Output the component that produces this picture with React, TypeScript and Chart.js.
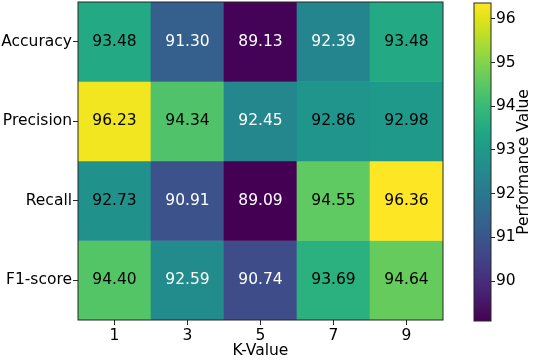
import React, { useEffect, useRef } from 'react';
import { Chart, registerables } from 'chart.js';
Chart.register(...registerables);

const metrics = ['Accuracy', 'Precision', 'Recall', 'F1-score'];
const kValues = ['1', '3', '5', '7', '9'];
const accuracy = [93.48, 91.30, 89.13, 92.39, 93.48];
const precision = [96.23, 94.34, 92.45, 92.86, 92.98];
const recall = [92.73, 90.91, 89.09, 94.55, 96.36];
const f1score = [94.40, 92.59, 90.74, 93.69, 94.64];
const colorbarTicks = [90, 91, 92, 93, 94, 95, 96];

const rows = [accuracy, precision, recall, f1score];
const allVals = rows.flat();
const vmin = Math.min(...allVals);
const vmax = Math.max(...allVals);
const vmid = (vmin + vmax) / 2;

const VIRIDIS = [
  '#440154', '#471365', '#482475', '#463480', '#414487', '#3b528b', '#355f8d',
  '#2f6c8e', '#2a788e', '#25848e', '#21918c', '#1e9c89', '#22a884', '#2fb47c',
  '#44bf70', '#5ec962', '#7ad151', '#9bd93c', '#bddf26', '#dfe318', '#fde725',
];
const hexToRgb = (h: string) => [1, 3, 5].map((i) => parseInt(h.slice(i, i + 2), 16));
const VIR_RGB = VIRIDIS.map(hexToRgb);
function viridis(t: number): string {
  const tt = Math.max(0, Math.min(1, t));
  const p = tt * (VIR_RGB.length - 1);
  const i = Math.min(Math.floor(p), VIR_RGB.length - 2);
  const f = p - i;
  const a = VIR_RGB[i], b = VIR_RGB[i + 1];
  const c = a.map((x, k) => Math.round(x + (b[k] - x) * f));
  return `rgb(${c[0]},${c[1]},${c[2]})`;
}
const norm = (v: number) => (v - vmin) / (vmax - vmin);

const FONT = { family: 'DejaVu Sans', size: 15.5 };
const FRAME = '#262626';

const noPad = (s: any) => {
  s.paddingTop = 0;
  s.paddingBottom = 0;
  s.paddingLeft = 0;
  s.paddingRight = 0;
};

export default function App() {
  const mainRef = useRef<HTMLCanvasElement>(null);
  const cbRef = useRef<HTMLCanvasElement>(null);

  useEffect(() => {
    const labelPlugin = {
      id: 'cellLabels',
      afterDatasetsDraw(chart: any) {
        const ctx = chart.ctx;
        ctx.save();
        ctx.font = `${FONT.size}px ${FONT.family}`;
        ctx.textAlign = 'center';
        ctx.textBaseline = 'middle';
        rows.forEach((vals, r) => {
          const meta = chart.getDatasetMeta(r);
          meta.data.forEach((el: any, c: number) => {
            const v = vals[c];
            ctx.fillStyle = v < vmid ? '#ffffff' : '#000000';
            ctx.fillText(v.toFixed(2), el.x, (el.y + el.base) / 2);
          });
        });
        const a = chart.chartArea;
        ctx.strokeStyle = FRAME;
        ctx.lineWidth = 1;
        ctx.strokeRect(a.left, a.top, a.right - a.left, a.bottom - a.top);
        ctx.restore();
      },
    };

    const main = new Chart(mainRef.current!, {
      type: 'bar',
      data: {
        labels: kValues,
        datasets: rows.map((vals, r) => ({
          label: metrics[r],
          data: vals.map(() => [r, r + 1]),
          backgroundColor: vals.map((v) => viridis(norm(v))),
          borderWidth: 0,
          barPercentage: 1,
          categoryPercentage: 1,
          grouped: false,
        })),
      } as any,
      options: {
        responsive: false,
        animation: false,
        layout: { padding: { top: 2, right: 10, left: 0, bottom: 0 } },
        plugins: { legend: { display: false }, tooltip: { enabled: false } },
        scales: {
          x: {
            type: 'category',
            grid: { offset: false, drawOnChartArea: false, tickLength: 5, color: FRAME },
            border: { display: false },
            ticks: { font: FONT, color: '#000', padding: 2 },
            title: { display: true, text: 'K-Value', font: FONT, color: '#000', padding: { top: 0, bottom: 0 } },
            afterFit: (s: any) => { s.height = 40; noPad(s); },
          },
          y: {
            type: 'linear',
            min: 0,
            max: 4,
            reverse: true,
            afterBuildTicks: (s: any) => { s.ticks = metrics.map((_, i) => ({ value: i + 0.5 })); },
            grid: { drawOnChartArea: false, tickLength: 5, color: FRAME },
            border: { display: false },
            ticks: {
              autoSkip: false,
              font: FONT,
              color: '#000',
              padding: 1,
              callback: (v: any) => metrics[Math.floor(Number(v))],
            },
            afterFit: (s: any) => { s.width = 78; noPad(s); },
          },
        },
      } as any,
      plugins: [labelPlugin],
    });

    const cbPlugin = {
      id: 'colorbar',
      beforeDatasetsDraw(chart: any) {
        const ctx = chart.ctx;
        const a = chart.chartArea;
        const ys = chart.scales.y;
        ctx.save();
        for (let py = Math.floor(a.top); py < Math.ceil(a.bottom); py++) {
          const v = ys.getValueForPixel(py + 0.5);
          ctx.fillStyle = viridis(norm(v));
          const y0 = Math.max(py, a.top);
          const y1 = Math.min(py + 1, a.bottom);
          ctx.fillRect(a.left, y0, a.right - a.left, y1 - y0);
        }
        ctx.strokeStyle = FRAME;
        ctx.lineWidth = 1;
        ctx.strokeRect(a.left, a.top, a.right - a.left, a.bottom - a.top);
        ctx.font = `${FONT.size}px ${FONT.family}`;
        ctx.fillStyle = '#000';
        ctx.textAlign = 'center';
        ctx.textBaseline = 'middle';
        ctx.translate(71, (a.top + a.bottom) / 2);
        ctx.rotate(-Math.PI / 2);
        ctx.fillText('Performance Value', 0, 0);
        ctx.restore();
      },
    };

    const cb = new Chart(cbRef.current!, {
      type: 'scatter',
      data: { datasets: [{ data: [] }] },
      options: {
        responsive: false,
        animation: false,
        layout: { padding: { top: 3, left: 21, right: 0, bottom: 39 } },
        plugins: { legend: { display: false }, tooltip: { enabled: false } },
        scales: {
          x: { display: false },
          y: {
            position: 'right',
            min: vmin,
            max: vmax,
            afterBuildTicks: (s: any) => { s.ticks = colorbarTicks.map((v) => ({ value: v })); },
            grid: { drawOnChartArea: false, tickLength: 4, color: FRAME },
            border: { display: false },
            ticks: { autoSkip: false, font: FONT, color: '#000', padding: 1 },
            afterFit: (s: any) => { s.width = 42; noPad(s); },
          },
        },
      } as any,
      plugins: [cbPlugin],
    });

    return () => { main.destroy(); cb.destroy(); };
  }, []);

  return (
    <div style={{ position: 'absolute', left: 0, top: 0, width: 533, height: 360, background: '#fff' }}>
      <canvas ref={mainRef} width={453} height={360}
        style={{ position: 'absolute', left: 0, top: 0, width: 453, height: 360 }} />
      <canvas ref={cbRef} width={80} height={360}
        style={{ position: 'absolute', left: 453, top: 0, width: 80, height: 360 }} />
    </div>
  );
}
